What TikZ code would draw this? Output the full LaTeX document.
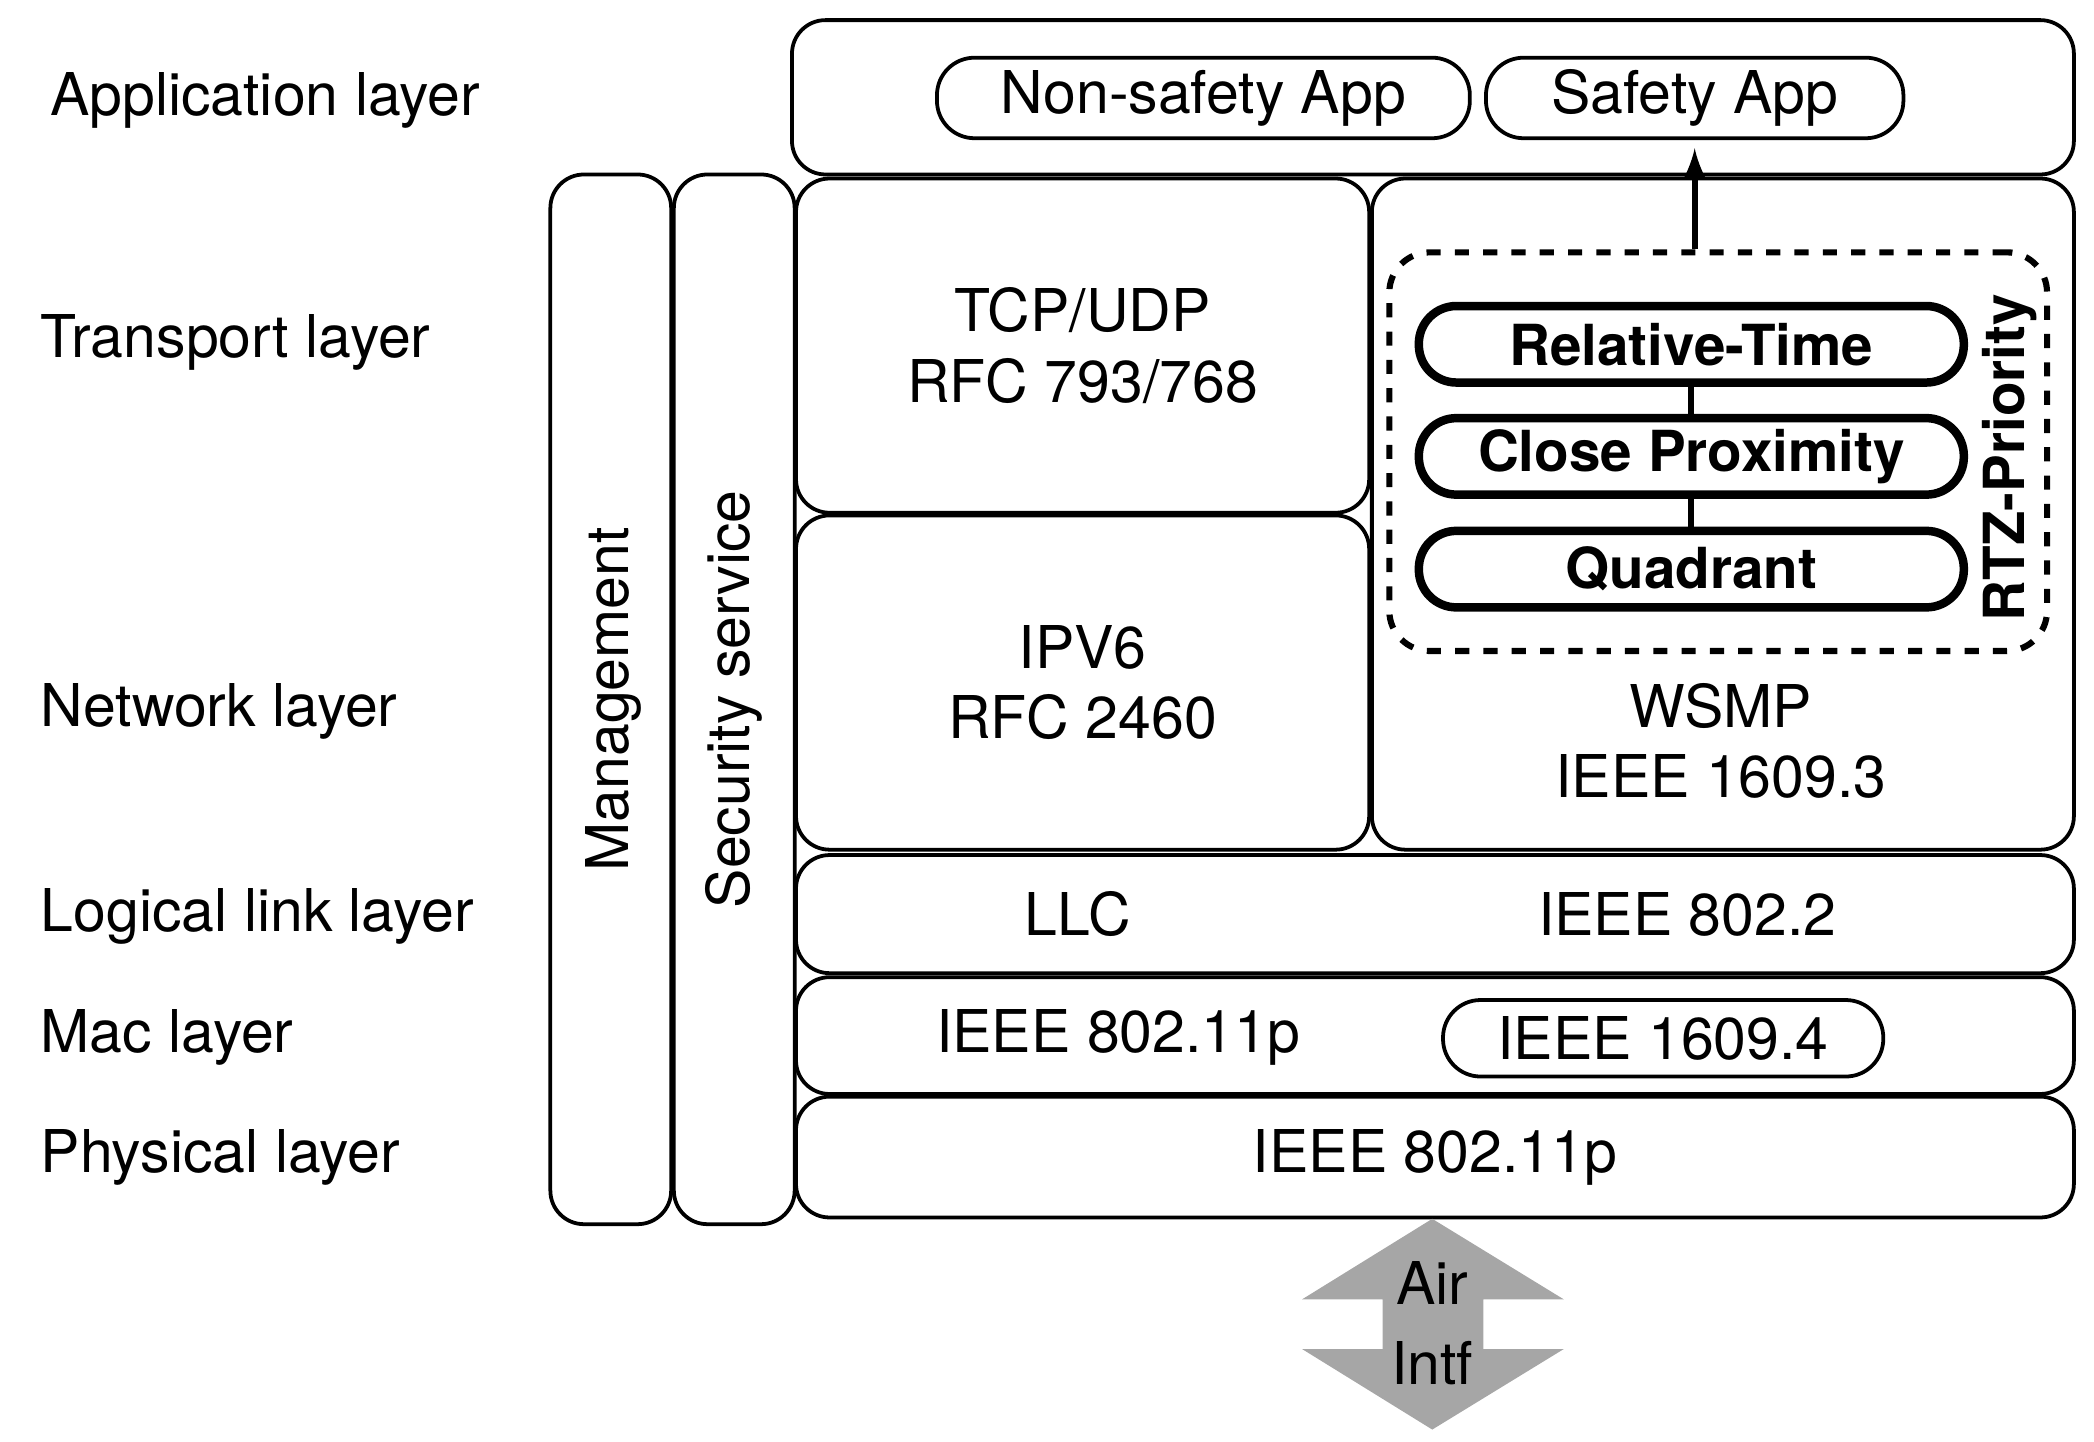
\documentclass[tikz,border=0pt]{standalone}
\usepackage{fontspec}
\setmainfont{TeX Gyre Heros}
\begin{document}
\begin{tikzpicture}[
  box/.style={draw, line width=0.8pt, rounded corners=0.25cm, inner sep=0pt, align=center},
  pill/.style={draw, line width=0.8pt, rounded corners=0.28cm, inner sep=0pt},
  tag/.style={draw, line width=1.8pt, rounded corners=0.28cm, inner sep=0pt, font=\fontsize{12}{14}\selectfont\bfseries},
  lay/.style={anchor=west, font=\fontsize{12.5}{15}\selectfont},
  every node/.style={font=\fontsize{12.5}{15}\selectfont}
]
\useasboundingbox (0,0) rectangle (15.6,10.74);

% left labels
\node[lay] (l1) at (0.25,9.99) {Application layer};
\node[lay] (l2) at (0.18,8.19) {Transport layer};
\node[lay] (l3) at (0.18,5.44) {Network layer};
\node[lay] (l4) at (0.18,3.91) {Logical link layer};
\node[lay] (l5) at (0.18,3.01) {Mac layer};
\node[lay] (l6) at (0.18,2.12) {Physical layer};

% application
\node[box, minimum width=9.55cm, minimum height=1.15cm] (app) at (10.675,10.015) {};
\node[pill, minimum width=3.97cm, minimum height=0.6cm] (nsa) at (8.965,10.01) {Non-safety App};
\node[pill, minimum width=3.11cm, minimum height=0.6cm] (sa) at (12.625,10.01) {Safety App};

% side columns
\node[box, minimum width=0.9cm, minimum height=7.82cm] (mgmt) at (4.55,5.53) {};
\node[rotate=90] (mgmtt) at (4.57,5.53) {Management};
\node[box, minimum width=0.9cm, minimum height=7.82cm] (sec) at (5.47,5.53) {};
\node[rotate=90] (sect) at (5.47,5.53) {Security service};

% transport / network
\node[box, minimum width=4.27cm, minimum height=2.49cm] (tcp) at (8.065,8.165) {TCP/UDP\\RFC 793/768};
\node[box, minimum width=4.27cm, minimum height=2.49cm] (ip) at (8.065,5.655) {IPV6\\RFC 2460};
\node[box, minimum width=5.23cm, minimum height=5.0cm] (wsmp) at (12.835,6.91) {};
\node[align=center] (wsmpt) at (12.82,5.22) {WSMP\\IEEE 1609.3};

% RTZ priority
\node[draw, dashed, line width=1.3pt, rounded corners=0.3cm, minimum width=4.9cm, minimum height=2.97cm] (rtz) at (12.8,7.375) {};
\node[rotate=90, font=\fontsize{12}{14}\selectfont\bfseries] (rtzt) at (14.97,7.33) {RTZ-Priority};
\node[tag, minimum width=4.06cm, minimum height=0.57cm] (rt) at (12.6,8.175) {Relative-Time};
\node[tag, minimum width=4.06cm, minimum height=0.57cm] (cp) at (12.6,7.34) {Close Proximity};
\node[tag, minimum width=4.06cm, minimum height=0.57cm] (qd) at (12.6,6.50) {Quadrant};
\draw[line width=1.3pt] (rt) -- (cp);
\draw[line width=1.3pt] (cp) -- (qd);
\draw[line width=1.3pt, -latex] (rtz.north -| sa.south) -- ([yshift=-0.06cm]sa.south);

% lower layers
\node[box, minimum width=9.52cm, minimum height=0.88cm] (llc) at (10.69,3.93) {};
\node (llct) at (8.03,3.93) {LLC};
\node (llcs) at (12.57,3.93) {IEEE 802.2};
\node[box, minimum width=9.52cm, minimum height=0.87cm] (mac) at (10.69,3.025) {};
\node (mact) at (8.33,3.01) {IEEE 802.11p};
\node[pill, minimum width=3.28cm, minimum height=0.57cm] (dot4) at (12.39,3.005) {IEEE 1609.4};
\node[box, minimum width=9.52cm, minimum height=0.9cm] (phy) at (10.69,2.12) {IEEE 802.11p};

% air interface
\fill[gray!70] (10.67,1.66) -- (11.65,1.06) -- (11.05,1.06) -- (11.05,0.69) -- (11.65,0.69)
  -- (10.67,0.09) -- (9.7,0.69) -- (10.3,0.69) -- (10.3,1.06) -- (9.7,1.06) -- cycle;
\node[align=center, font=\fontsize{12.5}{17}\selectfont] (air) at (10.67,0.88) {Air\\Intf};
\end{tikzpicture}
\end{document}
